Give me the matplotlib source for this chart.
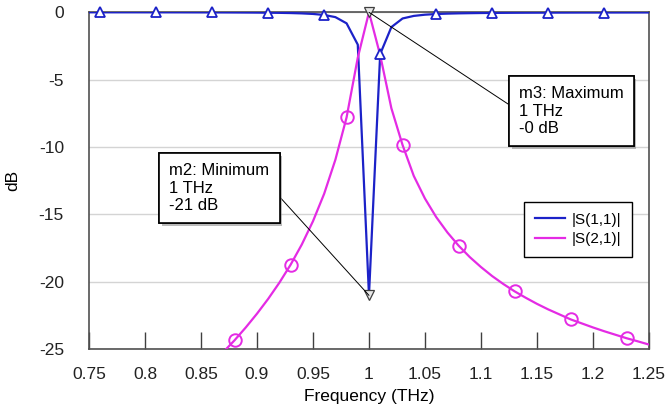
import numpy as np
import matplotlib
matplotlib.use("Agg")
import matplotlib.pyplot as plt
import matplotlib.patheffects as pe

plt.rcParams["font.family"] = ["Liberation Sans", "DejaVu Sans"]
plt.rcParams["axes.unicode_minus"] = False

# frequency grid (THz), 0.01 step
freq = np.round(np.linspace(0.75, 1.25, 51), 2)

# |S(1,1)| in dB
s11_db = [
    -0.002, -0.002, -0.003, -0.003, -0.003, -0.004, -0.005, -0.005, -0.006, -0.008,
    -0.009, -0.011, -0.013, -0.016, -0.02, -0.025, -0.033, -0.043, -0.058, -0.083,
    -0.124, -0.2, -0.36, -0.82, -2.4,
    -21.0,
    -3.1, -1.1, -0.46, -0.27, -0.18, -0.13, -0.1, -0.08, -0.067, -0.056,
    -0.048, -0.042, -0.037, -0.033, -0.03, -0.027, -0.025, -0.023, -0.021, -0.02,
    -0.019, -0.018, -0.017, -0.016, -0.015,
]

# |S(2,1)| in dB
s21_db = [
    -33.5, -32.9, -32.3, -31.7, -31.05, -30.4, -29.75, -29.06, -28.36, -27.6,
    -26.86, -26.06, -25.2, -24.33, -23.38, -22.36, -21.26, -20.06, -18.73, -17.23,
    -15.5, -13.46, -10.94, -7.8, -3.37,
    0.0,
    -3.18, -7.12, -9.85, -12.14, -13.82, -15.19, -16.33, -17.31, -18.16, -18.9,
    -19.57, -20.16, -20.7, -21.18, -21.63, -22.04, -22.41, -22.78, -23.08, -23.38,
    -23.66, -23.92, -24.18, -24.41, -24.65,
]

# markers m2 / m3
m2_freq, m2_db = 1.0, -21.0
m3_freq, m3_db = 1.0, 0.0

blue = "#1c22c8"
magenta = "#e42be4"

fig = plt.figure(figsize=(6.65, 4.09), dpi=100)
ax = fig.add_axes([0.1338, 0.146, 0.8421, 0.824])

ax.plot(freq, s11_db, color=blue, lw=1.6, label="|S(1,1)|", zorder=3)
ax.plot(freq, s21_db, color=magenta, lw=1.6, label="|S(2,1)|", zorder=3)

# symbol markers every 5th point
ax.plot(freq[1::5], np.array(s11_db)[1::5], ls="none", marker="^", ms=7,
        mfc="white", mec=blue, mew=1.3, clip_on=False, zorder=4)
ax.plot(freq[3::5], np.array(s21_db)[3::5], ls="none", marker="o", ms=9,
        mfc="none", mec=magenta, mew=1.4, zorder=4)

# marker triangles
ax.plot([m2_freq, m3_freq], [m2_db, m3_db], ls="none", marker="v", ms=7,
        mfc="#e8e8e8", mec="#404040", mew=0.9, clip_on=False, zorder=6)

def marker_box(text, xy, xytext, relpos):
    ann = ax.annotate(text, xy=xy, xytext=xytext, textcoords="data",
                      ha="center", va="center", multialignment="left",
                      fontsize=12, linespacing=1.2,
                      bbox=dict(boxstyle="square,pad=0.6", fc="white",
                                ec="black", lw=1.2),
                      arrowprops=dict(arrowstyle="-", color="black", lw=0.7,
                                      relpos=relpos, shrinkA=0, shrinkB=0),
                      zorder=7, annotation_clip=False)
    ann.get_bbox_patch().set_path_effects([
        pe.withSimplePatchShadow(offset=(2, -2), shadow_rgbFace="0.55", alpha=0.6),
        pe.Normal(),
    ])
    return ann

marker_box("m3: Maximum\n1 THz\n-0 dB", (m3_freq, m3_db), (1.1805, -7.33), (0, 0.5))
marker_box("m2: Minimum\n1 THz\n-21 dB", (m2_freq, m2_db), (0.8665, -13.05), (1, 0.55))

ax.set_xlim(0.75, 1.25)
ax.set_ylim(-25, 0)
ax.set_xticks(np.round(np.arange(0.75, 1.2501, 0.05), 2))
ax.set_xticklabels(["0.75", "0.8", "0.85", "0.9", "0.95", "1",
                    "1.05", "1.1", "1.15", "1.2", "1.25"])
ax.set_yticks([0, -5, -10, -15, -20, -25])

ax.yaxis.grid(True, color="#d4d4d4", lw=1.0)
ax.set_axisbelow(True)
ax.tick_params(axis="x", direction="in", length=12, width=1.0,
               color="#404040", pad=13, labelsize=12.5, colors="#222222")
ax.tick_params(axis="y", length=0, pad=18, labelsize=12.5, colors="#222222")
for side in ["left", "bottom", "right", "top"]:
    ax.spines[side].set_color("#505050")
    ax.spines[side].set_linewidth(1.2)

ax.set_xlabel("Frequency (THz)", fontsize=12.5)
ax.set_ylabel("dB", fontsize=12.5)
ax.xaxis.set_label_coords(0.5, -0.118)
ax.yaxis.set_label_coords(-0.123, 0.5)

leg = ax.legend(loc="upper left", bbox_to_anchor=(0.777, 0.437),
                borderaxespad=0, fontsize=11, fancybox=False, framealpha=1,
                handlelength=2.0, handletextpad=0.4, borderpad=0.7,
                labelspacing=0.35)
leg.get_frame().set_edgecolor("black")
leg.get_frame().set_linewidth(1.0)

fig.savefig("out.png", dpi=100)
